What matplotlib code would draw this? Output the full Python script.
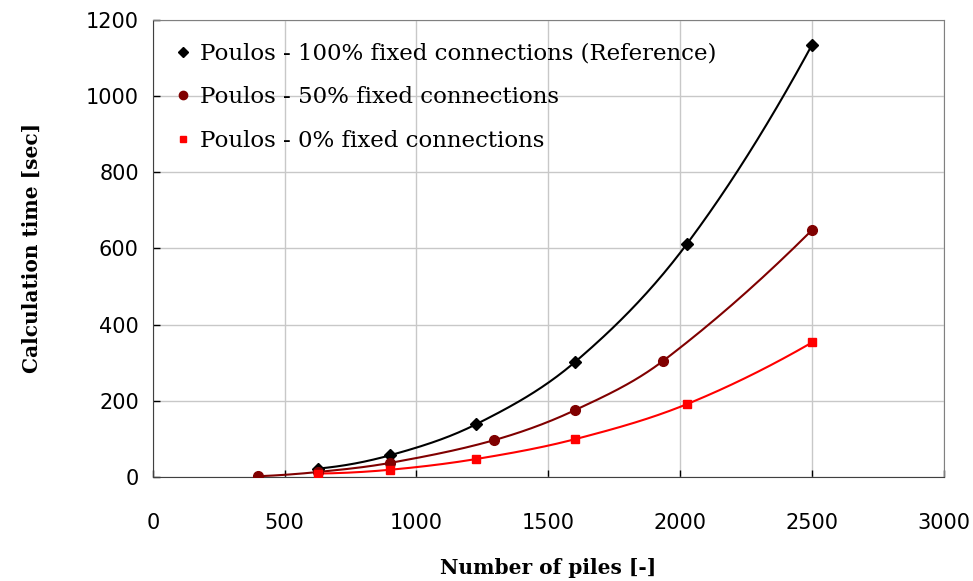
import numpy as np
import matplotlib
matplotlib.use("Agg")
import matplotlib.pyplot as plt

# Calculation times for the Poulos method, by share of fixed pile connections
piles_100 = [625, 900, 1225, 1600, 2025, 2500]
time_100 = [22, 57, 138, 301, 611, 1134]

piles_50 = [400, 625, 900, 1296, 1600, 1936, 2500]
time_50 = [2, 13, 37, 97, 175, 305, 648]

piles_0 = [625, 900, 1225, 1600, 2025, 2500]
time_0 = [9, 19, 47, 99, 191, 353]

labels = ["Poulos - 100% fixed connections (Reference)",
          "Poulos - 50% fixed connections",
          "Poulos - 0% fixed connections"]


def smooth(x, y, n=40):
    # cubic Hermite curve through the points, slopes from neighbouring points
    x = np.asarray(x, float)
    y = np.asarray(y, float)
    d = np.empty_like(y)
    d[1:-1] = (y[2:] - y[:-2]) / (x[2:] - x[:-2])
    d[0] = (y[1] - y[0]) / (x[1] - x[0])
    d[-1] = (y[-1] - y[-2]) / (x[-1] - x[-2])
    # end slopes: extrapolate so curvature carries through
    d[0] = 2 * d[0] - d[1]
    d[-1] = 2 * d[-1] - d[-2]
    xs, ys = [], []
    t = np.linspace(0, 1, n)
    h00 = 2 * t ** 3 - 3 * t ** 2 + 1
    h10 = t ** 3 - 2 * t ** 2 + t
    h01 = -2 * t ** 3 + 3 * t ** 2
    h11 = t ** 3 - t ** 2
    for i in range(len(x) - 1):
        h = x[i + 1] - x[i]
        xs.append(x[i] + h * t)
        ys.append(h00 * y[i] + h10 * h * d[i] + h01 * y[i + 1] + h11 * h * d[i + 1])
    return np.concatenate(xs), np.concatenate(ys)


fig = plt.figure(figsize=(9.73, 5.81), dpi=100)
ax = fig.add_axes([0.157, 0.179, 0.813, 0.787])

series = [
    (piles_100, time_100, "black", "D", 6),
    (piles_50, time_50, "#800000", "o", 7),
    (piles_0, time_0, "#ff0000", "s", 6),
]
for (x, y, c, m, ms), lab in zip(series, labels):
    sx, sy = smooth(x, y)
    ax.plot(sx, sy, color=c, lw=1.5, zorder=3)
    ax.plot(x, y, ls="none", marker=m, color=c, ms=ms, zorder=4)
    ax.plot([], [], ls="none", marker=m, color=c, ms=ms - 1, label=lab)

ax.set_xlim(0, 3000)
ax.set_ylim(0, 1200)
ax.set_xticks(np.arange(0, 3001, 500))
ax.set_yticks(np.arange(0, 1201, 200))
ax.grid(True, color="#c8c8c8", lw=1)
ax.set_axisbelow(True)
ax.tick_params(direction="in", length=5, width=1, labelsize=15, pad=10,
               colors="black")
ax.tick_params(axis="x", pad=26)
for s in ["top", "right"]:
    ax.spines[s].set_color("#808080")
for s in ["left", "bottom"]:
    ax.spines[s].set_color("#404040")

ax.set_xlabel("Number of piles [-]", family="DejaVu Serif", fontweight="bold",
              fontsize=14.5, labelpad=18)
ax.set_ylabel("Calculation time [sec]", family="DejaVu Serif", fontweight="bold",
              fontsize=14.5, labelpad=32)

ax.legend(loc="upper left", frameon=False, handlelength=0.6, handletextpad=0.45,
          labelspacing=0.95, prop={"family": "DejaVu Serif", "size": 16.5},
          borderaxespad=0.6, bbox_to_anchor=(0.0, 1.0))

fig.savefig("out.png", dpi=100, facecolor="white")
